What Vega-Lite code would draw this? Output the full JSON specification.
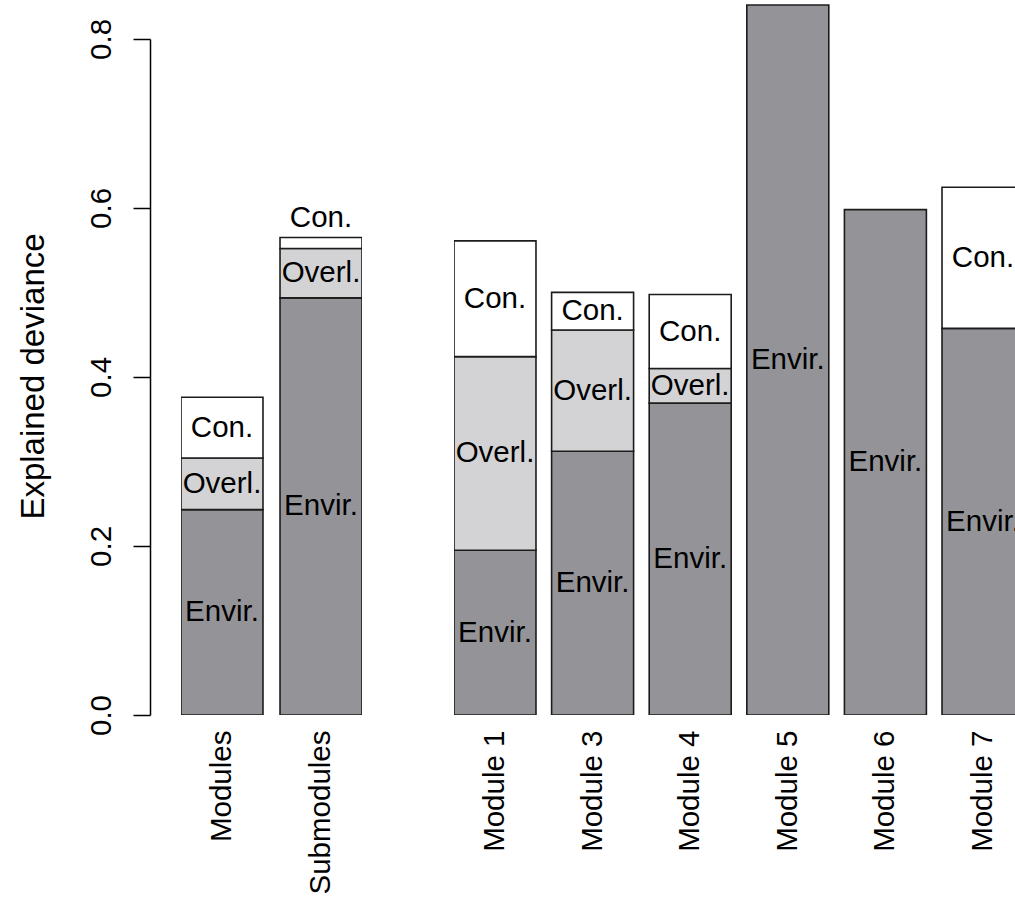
{
  "$schema": "https://vega.github.io/schema/vega-lite/v6.json",
  "background": "white",
  "padding": {"left": 17, "top": 0, "right": 0, "bottom": 0},
  "spacing": 92,
  "config": {
    "view": {"stroke": null},
    "font": "Liberation Sans",
    "text": {"font": "Liberation Sans"},
    "axis": {"labelFont": "Liberation Sans", "titleFont": "Liberation Sans"}
  },
  "resolve": {"scale": {"x": "independent", "y": "independent"}},
  "datasets": {
    "overall": [
      {"bar": "Modules", "part": "Envir.", "value": 0.243},
      {"bar": "Modules", "part": "Overl.", "value": 0.061},
      {"bar": "Modules", "part": "Con.", "value": 0.072},
      {"bar": "Submodules", "part": "Envir.", "value": 0.4935},
      {"bar": "Submodules", "part": "Overl.", "value": 0.0585},
      {"bar": "Submodules", "part": "Con.", "value": 0.013}
    ],
    "modules": [
      {"bar": "Module 1", "part": "Envir.", "value": 0.195},
      {"bar": "Module 1", "part": "Overl.", "value": 0.229},
      {"bar": "Module 1", "part": "Con.", "value": 0.137},
      {"bar": "Module 3", "part": "Envir.", "value": 0.312},
      {"bar": "Module 3", "part": "Overl.", "value": 0.1435},
      {"bar": "Module 3", "part": "Con.", "value": 0.0445},
      {"bar": "Module 4", "part": "Envir.", "value": 0.369},
      {"bar": "Module 4", "part": "Overl.", "value": 0.041},
      {"bar": "Module 4", "part": "Con.", "value": 0.0875},
      {"bar": "Module 5", "part": "Envir.", "value": 0.84},
      {"bar": "Module 6", "part": "Envir.", "value": 0.598},
      {"bar": "Module 7", "part": "Envir.", "value": 0.4575},
      {"bar": "Module 7", "part": "Con.", "value": 0.167}
    ]
  },
  "hconcat": [
    {
      "width": 181,
      "height": 715,
      "data": {"name": "overall"},
      "transform": [
        {"calculate": "indexof(['Envir.', 'Overl.', 'Con.'], datum.part)", "as": "rank"},
        {"stack": "value", "groupby": ["bar"], "sort": [{"field": "rank", "order": "ascending"}], "as": ["lo", "hi"]},
        {"calculate": "datum.hi - datum.lo < 0.03 ? datum.hi + 0.023 : (datum.lo + datum.hi) / 2", "as": "mid"}
      ],
      "encoding": {
        "x": {
          "field": "bar", "type": "nominal", "sort": null,
          "scale": {"domain": ["Modules", "Submodules"], "paddingInner": 0.172, "paddingOuter": 0},
          "axis": {
            "title": null, "domain": false, "ticks": false, "tickSize": 0,
            "labelAngle": -90, "labelAlign": "right", "labelBaseline": "middle",
            "labelPadding": 15, "labelFontSize": 29.5, "labelColor": "black"
          }
        }
      },
      "layer": [
        {
          "mark": {"type": "bar", "stroke": "#1c1c1c", "strokeWidth": 1.6, "clip": true},
          "encoding": {
            "y": {
              "field": "lo", "type": "quantitative",
              "scale": {"domain": [0, 0.846], "nice": false, "zero": true},
              "axis": {
                "title": "Explained deviance",
                "values": [0, 0.2, 0.4, 0.6, 0.8], "format": ".1f",
                "offset": 31, "grid": false,
                "domainColor": "black", "domainWidth": 1.5, "domainDash": [676, 2000],
                "tickColor": "black", "tickWidth": 1.5, "tickSize": 17,
                "labelAngle": -90, "labelAlign": "center", "labelBaseline": "alphabetic",
                "labelPadding": 23, "labelFontSize": 29.5, "labelColor": "black",
                "titleFontSize": 33, "titleFontWeight": "normal", "titleColor": "black",
                "titleAngle": -90, "titleAlign": "center", "titleBaseline": "alphabetic",
                "titleX": -107, "titleY": 376
              }
            },
            "y2": {"field": "hi"},
            "color": {
              "field": "part", "type": "nominal", "legend": null,
              "scale": {"domain": ["Envir.", "Overl.", "Con."], "range": ["#949498", "#d3d3d5", "#ffffff"]}
            }
          }
        },
        {
          "mark": {"type": "text", "fontSize": 29.5, "color": "black", "baseline": "middle", "align": "center", "clip": true},
          "encoding": {
            "y": {"field": "mid", "type": "quantitative"},
            "text": {"field": "part"}
          }
        }
      ]
    },
    {
      "width": 561,
      "height": 715,
      "data": {"name": "modules"},
      "transform": [
        {"calculate": "indexof(['Envir.', 'Overl.', 'Con.'], datum.part)", "as": "rank"},
        {"stack": "value", "groupby": ["bar"], "sort": [{"field": "rank", "order": "ascending"}], "as": ["lo", "hi"]},
        {"calculate": "datum.hi - datum.lo < 0.03 ? datum.hi + 0.023 : (datum.lo + datum.hi) / 2", "as": "mid"}
      ],
      "encoding": {
        "x": {
          "field": "bar", "type": "nominal", "sort": null,
          "scale": {
            "domain": ["Module 1", "Module 3", "Module 4", "Module 5", "Module 6", "Module 7"],
            "range": [0, 570], "paddingInner": 0.16, "paddingOuter": 0
          },
          "axis": {
            "title": null, "domain": false, "ticks": false, "tickSize": 0,
            "labelAngle": -90, "labelAlign": "right", "labelBaseline": "middle",
            "labelPadding": 15, "labelFontSize": 29.5, "labelColor": "black"
          }
        }
      },
      "layer": [
        {
          "mark": {"type": "bar", "stroke": "#1c1c1c", "strokeWidth": 1.6, "clip": true},
          "encoding": {
            "y": {
              "field": "lo", "type": "quantitative",
              "scale": {"domain": [0, 0.846], "nice": false, "zero": true},
              "axis": null
            },
            "y2": {"field": "hi"},
            "color": {
              "field": "part", "type": "nominal", "legend": null,
              "scale": {"domain": ["Envir.", "Overl.", "Con."], "range": ["#949498", "#d3d3d5", "#ffffff"]}
            }
          }
        },
        {
          "mark": {"type": "text", "fontSize": 29.5, "color": "black", "baseline": "middle", "align": "center", "clip": true},
          "encoding": {
            "y": {"field": "mid", "type": "quantitative"},
            "text": {"field": "part"}
          }
        }
      ]
    }
  ]
}
